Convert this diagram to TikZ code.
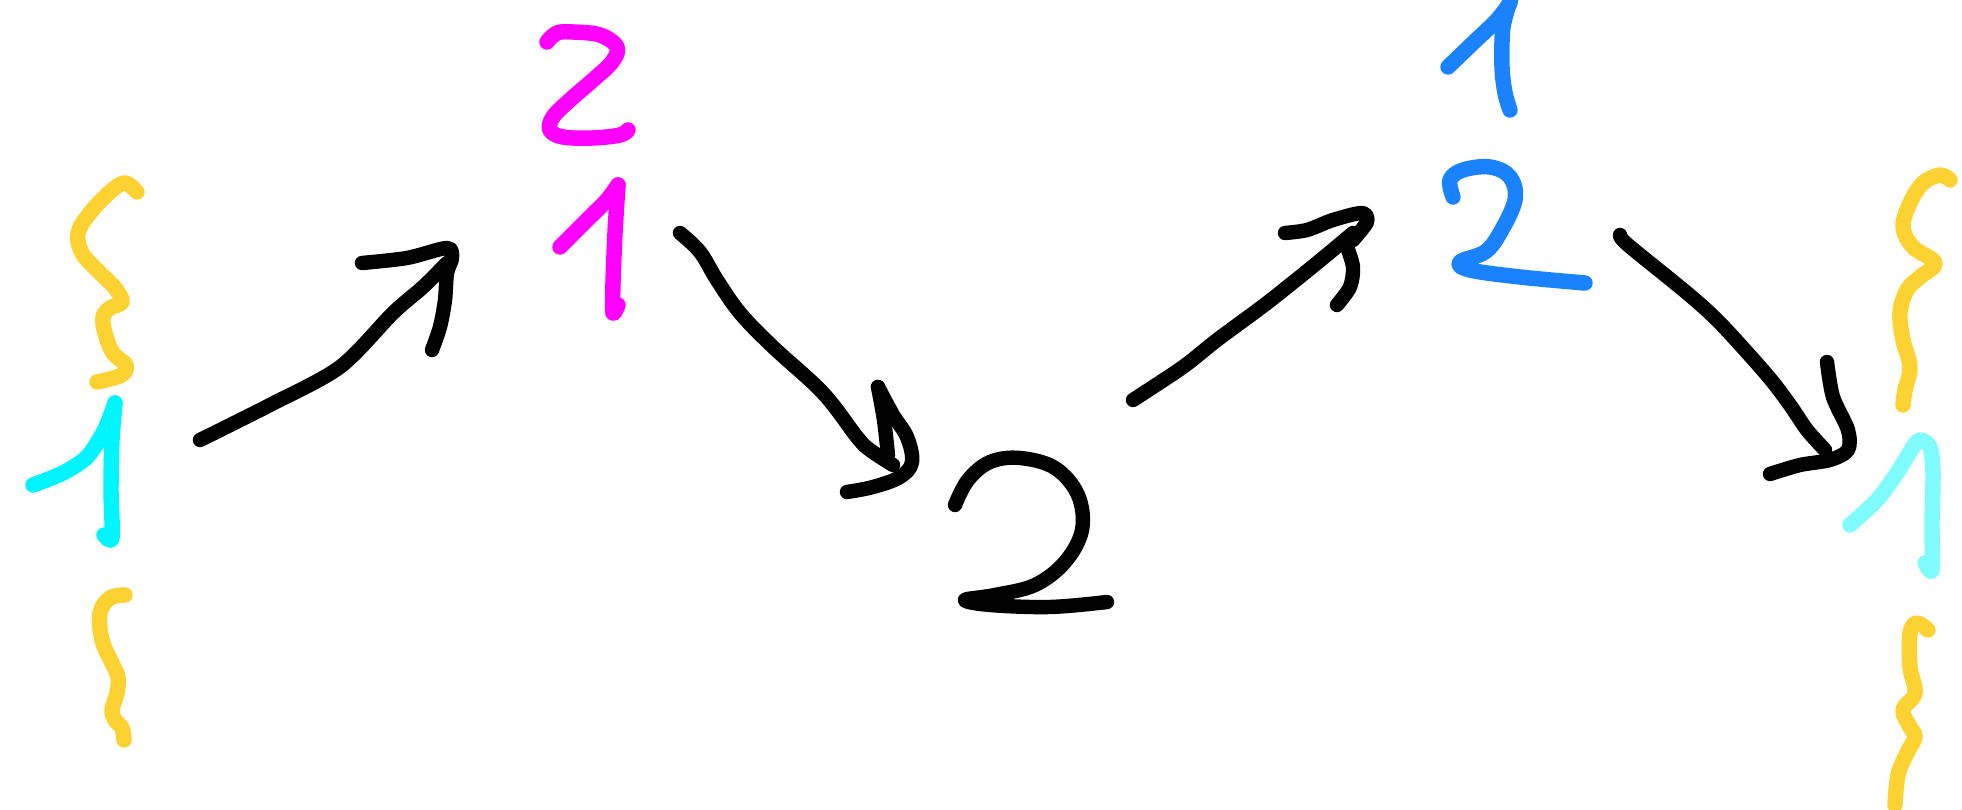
\documentclass[tikz,border=0pt]{standalone}
\usetikzlibrary{calc}
\definecolor{sy}{HTML}{FCD232}
\definecolor{sc}{HTML}{00F5FF}
\definecolor{slc}{HTML}{80FCFF}
\definecolor{sm}{HTML}{FF00FF}
\definecolor{sb}{HTML}{1982FC}
\tikzset{
  pen/.style={line width=4.4pt, line cap=round, line join=round},
  blk/.style={pen, black, line width=4.1pt},
}
\begin{document}
\begin{tikzpicture}[x=0.01cm,y=-0.01cm]
\useasboundingbox (0,0) rectangle (1962,810);
% left top yellow
\draw[pen,sy] plot[smooth,tension=0.6] coordinates {(137,192) (125,183) (110,192) (90,213) (78,233) (82,253) (97,270) (115,288) (122,302) (110,308) (103,317) (105,333) (113,353) (126,365) (123,374) (110,379) (97,382)};
% left cyan 1
\draw[pen,sc] plot[smooth,tension=0.5] coordinates {(33,485) (63,473) (87,457) (103,433) (110,417) (115,403)};
\draw[pen,sc] plot[smooth,tension=0.5] coordinates {(115,403) (112,440) (111,490) (112,538) (104,535)};
% left bottom yellow
\draw[pen,sy] plot[smooth,tension=0.6] coordinates {(125,595) (110,598) (100,613) (102,640) (112,663) (118,677) (117,693) (112,710) (115,720) (122,728) (124,740)};
% arrow 1
\draw[blk] plot[smooth,tension=0.5] coordinates {(200,440) (270,405) (340,367) (393,313) (423,287) (447,263)};
\draw[blk] plot[smooth,tension=0.5] coordinates {(362,263) (407,258) (447,248) (452,258) (447,273) (445,300) (440,327) (432,350)};
% pink 2
\draw[pen,sm] plot[smooth,tension=0.6] coordinates {(547,42) (557,33) (573,32) (600,35) (617,47) (612,62) (593,80) (570,100) (553,117) (550,130) (563,137) (593,138) (620,135) (628,130)};
% pink 1
\draw[pen,sm] plot[smooth,tension=0.5] coordinates {(560,247) (587,220) (607,200) (618,185)};
\draw[pen,sm] plot[smooth,tension=0.5] coordinates {(618,185) (615,233) (613,283) (613,313) (618,305)};
% arrow 2
\draw[blk] plot[smooth,tension=0.6] coordinates {(680,233) (700,252) (717,280) (740,313) (773,347) (823,393) (857,437) (870,450) (893,465)};
\draw[blk] plot[smooth,tension=0.5] coordinates {(878,387) (884,420) (888,455)};
\draw[blk] plot[smooth,tension=0.6] coordinates {(878,387) (893,415) (907,437) (912,462) (900,477) (873,487) (847,492)};
% black 2
\draw[blk] plot[smooth,tension=0.6] coordinates {(955,505) (968,480) (990,462) (1020,458) (1055,468) (1078,495) (1082,530) (1065,562) (1035,585) (995,595) (965,600) (990,605) (1050,607) (1107,602)};
% arrow 3
\draw[blk] plot[smooth,tension=0.5] coordinates {(1133,400) (1183,367) (1217,340) (1267,303) (1317,263) (1353,233)};
\draw[blk] plot[smooth,tension=0.5] coordinates {(1285,233) (1307,230) (1333,220) (1362,213) (1367,222) (1353,240)};
\draw[blk] plot[smooth,tension=0.5] coordinates {(1347,247) (1353,267) (1350,287) (1337,305)};
% blue 1
\draw[pen,sb] plot[smooth,tension=0.5] coordinates {(1448,67) (1473,43) (1497,20) (1510,3)};
\draw[pen,sb] plot[smooth,tension=0.5] coordinates {(1512,-5) (1503,27) (1502,67) (1505,93) (1510,110)};
% blue 2
\draw[pen,sb] plot[smooth,tension=0.6] coordinates {(1453,197) (1450,180) (1463,170) (1490,167) (1510,177) (1515,200) (1500,233) (1485,252) (1460,262) (1470,270) (1520,277) (1585,283)};
% arrow 4
\draw[blk] plot[smooth,tension=0.5] coordinates {(1620,235) (1628,245) (1687,293) (1720,323) (1767,375) (1790,405) (1807,430) (1825,450)};
\draw[blk] plot[smooth,tension=0.5] coordinates {(1827,362) (1833,397) (1848,430) (1848,450) (1830,460) (1800,465) (1770,474)};
% right yellow top
\draw[pen,sy] plot[smooth,tension=0.6] coordinates {(1950,180) (1940,175) (1923,183) (1910,203) (1903,227) (1913,247) (1935,263) (1920,277) (1907,290) (1900,313) (1903,340) (1910,367) (1905,390) (1903,405)};
% right light cyan 1
\draw[pen,slc] plot[smooth,tension=0.5] coordinates {(1850,525) (1877,500) (1897,473) (1913,447) (1920,440) (1930,447) (1933,473) (1932,523) (1932,570) (1925,563)};
% right yellow bottom
\draw[pen,sy] plot[smooth,tension=0.6] coordinates {(1928,630) (1917,623) (1910,633) (1910,667) (1915,693) (1903,710) (1910,727) (1915,737) (1907,753) (1898,775) (1895,805)};
\end{tikzpicture}
\end{document}
